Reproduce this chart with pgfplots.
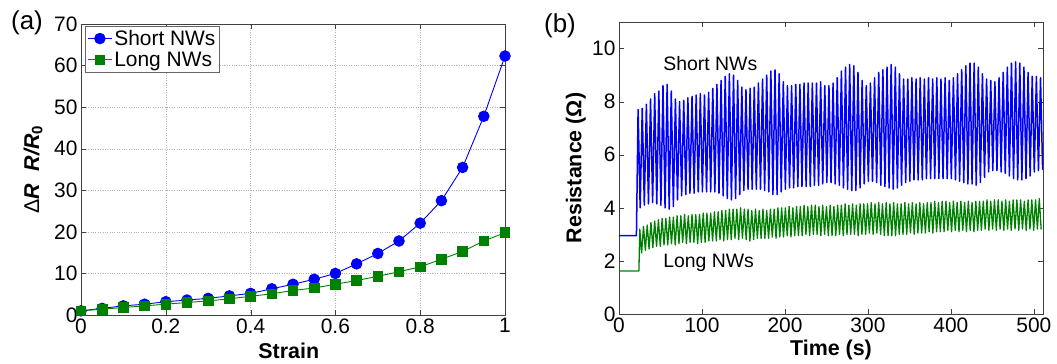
\documentclass[border=0pt]{standalone}
\usepackage{pgfplots}
\pgfplotsset{compat=1.18}
\usepackage{fontspec}
\setmainfont{Liberation Sans}
\definecolor{mblue}{RGB}{0,0,255}
\definecolor{mgreen}{RGB}{0,128,0}
\begin{document}
\begin{tikzpicture}[x=1bp,y=1bp]
\useasboundingbox (0,0) rectangle (1057,363);
\pgfplotsset{
  every axis/.append style={
    scale only axis,
    /pgf/number format/assume math mode=true,
    tick label style={font=\fontsize{21}{21}\selectfont},
    label style={font=\bfseries\fontsize{21.5}{21.5}\selectfont},
    axis line style={black!75},
    major tick length=5bp,
    tick style={black!75},
  }
}
% ---------- (a) ----------
\begin{axis}[at={(81bp,48bp)}, anchor=south west, width=424bp, height=291bp,
  xmin=0, xmax=1, ymin=0, ymax=70,
  xtick={0,0.2,0.4,0.6,0.8,1}, ytick={0,10,20,30,40,50,60,70},
  grid=major, major grid style={dotted, black!30},
  xlabel={Strain},
  xlabel style={at={(axis description cs:0.49,-0.122)}, anchor=center},
  ylabel={\mdseries Δ\textbf{\textit{R}}\hspace{0.6em}\textbf{\textit{R/R}}\textsubscript{\textbf{0}}},
  ylabel style={at={(axis description cs:-0.113,0.5)}, anchor=center},
  legend style={at={(axis description cs:0.01,0.993)}, anchor=north west, draw=black!60,
    font=\fontsize{21}{25}\selectfont, inner sep=2bp, row sep=1bp},
  legend cell align=left,
  legend image code/.code={\draw[mark repeat=2,mark phase=2,#1] plot coordinates {(0bp,0bp)(12bp,0bp)(24bp,0bp)};},
]
\addplot[mblue, line width=0.9bp, mark=*, mark size=5.3bp, mark options={fill=mblue, draw=mblue}] coordinates {
(0,1.0)(0.05,1.6)(0.1,2.2)(0.15,2.6)(0.2,3.2)(0.25,3.6)(0.3,4.0)(0.35,4.6)(0.4,5.2)(0.45,6.3)
(0.5,7.4)(0.55,8.6)(0.6,10.0)(0.65,12.3)(0.7,14.8)(0.75,17.8)(0.8,22.1)(0.85,27.5)(0.9,35.5)(0.95,47.8)(1.0,62.3)};
\addlegendentry{Short NWs}
\addplot[mgreen, line width=0.9bp, mark=square*, mark size=4.8bp, mark options={fill=mgreen, draw=mgreen}] coordinates {
(0,1.0)(0.05,1.4)(0.1,1.8)(0.15,2.2)(0.2,2.6)(0.25,3.0)(0.3,3.4)(0.35,3.9)(0.4,4.5)(0.45,5.1)
(0.5,5.9)(0.55,6.5)(0.6,7.4)(0.65,8.3)(0.7,9.3)(0.75,10.4)(0.8,11.6)(0.85,13.4)(0.9,15.3)(0.95,17.8)(1.0,19.8)};
\addlegendentry{Long NWs}
\end{axis}
% ---------- (b) ----------
\begin{axis}[at={(619bp,49bp)}, anchor=south west, width=424bp, height=292bp,
  xmin=0, xmax=511, ymin=0, ymax=11,
  xtick={0,100,200,300,400,500}, ytick={0,2,4,6,8,10},
  xlabel={Time (s)},
  xlabel style={at={(axis description cs:0.50,-0.122)}, anchor=center},
  ylabel={Resistance (Ω)},
  ylabel style={at={(axis description cs:-0.102,0.5)}, anchor=center},
]
\addplot[mblue, line width=1.5bp, line join=round, line cap=round] coordinates {
(0,2.95)(21,2.95)(23,7.7)(25.5,4.0)(28,7.75)(30.5,4.1)(33,7.9)(35.5,4.15)(38,8.1)(40.5,4.2)(43,8.3)(45.5,4.15)(48,8.4)(50.5,4.1)(53,8.6)(55.5,4.0)(58,8.65)(60.5,3.95)(63,8.4)(65.5,4.05)(68,8.1)(70.5,4.3)(73,8.0)(75.5,4.45)(78,8.05)(80.5,4.5)(83,8.15)(85.5,4.55)(88,8.2)(90.5,4.55)(93,8.25)(95.5,4.6)(98,8.3)(100.5,4.6)(103,8.25)(105.5,4.6)(108,8.35)(110.5,4.6)(113,8.5)(115.5,4.6)(118,8.65)(120.5,4.55)(123,8.8)(125.5,4.45)(128,8.95)(130.5,4.35)(133,9.05)(135.5,4.3)(138,9.0)(140.5,4.35)(143,8.8)(145.5,4.5)(148,8.55)(150.5,4.65)(153,8.45)(155.5,4.7)(158,8.5)(160.5,4.7)(163,8.55)(165.5,4.7)(168,8.7)(170.5,4.7)(173,8.85)(175.5,4.65)(178,9.0)(180.5,4.6)(183,9.15)(185.5,4.5)(188,9.2)(190.5,4.5)(193,9.05)(195.5,4.6)(198,8.75)(200.5,4.7)(203,8.6)(205.5,4.75)(208,8.6)(210.5,4.75)(213,8.65)(215.5,4.8)(218,8.65)(220.5,4.8)(223,8.7)(225.5,4.8)(228,8.7)(230.5,4.8)(233,8.7)(235.5,4.85)(238,8.7)(240.5,4.85)(243,8.75)(245.5,4.9)(248,8.6)(250.5,4.95)(253,8.6)(255.5,4.95)(258,8.7)(260.5,4.9)(263,8.9)(265.5,4.85)(268,9.15)(270.5,4.75)(273,9.3)(275.5,4.7)(278,9.4)(280.5,4.65)(283,9.35)(285.5,4.65)(288,9.1)(290.5,4.75)(293,8.8)(295.5,4.9)(298,8.6)(300.5,5.0)(303,8.7)(305.5,5.0)(308,8.9)(310.5,4.95)(313,9.1)(315.5,4.85)(318,9.2)(320.5,4.8)(323,9.3)(325.5,4.75)(328,9.4)(330.5,4.7)(333,9.3)(335.5,4.75)(338,9.05)(340.5,4.85)(343,8.85)(345.5,4.95)(348,8.85)(350.5,5.0)(353,8.9)(355.5,5.05)(358,8.85)(360.5,5.05)(363,8.9)(365.5,5.05)(368,8.85)(370.5,5.1)(373,8.9)(375.5,5.1)(378,8.85)(380.5,5.1)(383,8.9)(385.5,5.1)(388,8.85)(390.5,5.1)(393,8.9)(395.5,5.1)(398,8.8)(400.5,5.1)(403,8.9)(405.5,5.05)(408,9.05)(410.5,5.0)(413,9.2)(415.5,4.95)(418,9.35)(420.5,4.9)(423,9.45)(425.5,4.9)(428,9.45)(430.5,4.85)(433,9.3)(435.5,4.95)(438,9.05)(440.5,5.15)(443,8.85)(445.5,5.35)(448,8.8)(450.5,5.4)(453,8.75)(455.5,5.4)(458,8.9)(460.5,5.35)(463,9.1)(465.5,5.3)(468,9.3)(470.5,5.2)(473,9.45)(475.5,5.1)(478,9.5)(480.5,5.05)(483,9.45)(485.5,5.05)(488,9.3)(490.5,5.1)(493,9.1)(495.5,5.2)(498,8.95)(500.5,5.35)(503,8.95)(505.5,5.4)(508,8.9)(510.5,5.45)};
\addplot[mgreen, line width=1.3bp, line join=round, line cap=round] coordinates {
(0,1.62)(24,1.62)(25,3.2)(27.25,2.3)(29.5,3.3)(31.75,2.4)(34,3.35)(36.25,2.45)(38.5,3.45)(40.75,2.5)(43,3.5)(45.25,2.55)(47.5,3.55)(49.75,2.55)(52,3.6)(54.25,2.6)(56.5,3.6)(58.75,2.6)(61,3.65)(63.25,2.65)(65.5,3.65)(67.75,2.6)(70,3.7)(72.25,2.65)(74.5,3.7)(76.75,2.7)(79,3.75)(81.25,2.65)(83.5,3.7)(85.75,2.7)(88,3.75)(90.25,2.7)(92.5,3.75)(94.75,2.65)(97,3.75)(99.25,2.7)(101.5,3.8)(103.75,2.7)(106,3.8)(108.25,2.75)(110.5,3.8)(112.75,2.75)(115,3.85)(117.25,2.75)(119.5,3.85)(121.75,2.8)(124,3.9)(126.25,2.75)(128.5,3.9)(130.75,2.8)(133,3.95)(135.25,2.8)(137.5,3.95)(139.75,2.85)(142,3.95)(144.25,2.8)(146.5,4.0)(148.75,2.85)(151,3.95)(153.25,2.8)(155.5,3.95)(157.75,2.75)(160,3.9)(162.25,2.8)(164.5,3.95)(166.75,2.85)(169,3.9)(171.25,2.85)(173.5,3.95)(175.75,2.85)(178,3.9)(180.25,2.85)(182.5,3.95)(184.75,2.9)(187,3.95)(189.25,2.85)(191.5,4.0)(193.75,2.9)(196,4.0)(198.25,2.9)(200.5,4.0)(202.75,2.95)(205,4.05)(207.25,2.9)(209.5,4.0)(211.75,2.95)(214,4.05)(216.25,2.95)(218.5,4.05)(220.75,2.95)(223,4.1)(225.25,3.0)(227.5,4.05)(229.75,2.95)(232,4.1)(234.25,3.0)(236.5,4.1)(238.75,3.0)(241,4.05)(243.25,2.95)(245.5,4.1)(247.75,3.0)(250,4.05)(252.25,2.95)(254.5,4.1)(256.75,2.95)(259,4.05)(261.25,2.95)(263.5,4.1)(265.75,3.0)(268,4.1)(270.25,2.95)(272.5,4.15)(274.75,3.0)(277,4.1)(279.25,3.0)(281.5,4.15)(283.75,3.0)(286,4.1)(288.25,2.95)(290.5,4.15)(292.75,3.0)(295,4.15)(297.25,3.0)(299.5,4.15)(301.75,3.05)(304,4.2)(306.25,3.0)(308.5,4.15)(310.75,3.05)(313,4.2)(315.25,3.0)(317.5,4.15)(319.75,2.95)(322,4.2)(324.25,2.95)(326.5,4.15)(328.75,2.95)(331,4.2)(333.25,2.95)(335.5,4.15)(337.75,3.0)(340,4.15)(342.25,3.0)(344.5,4.2)(346.75,3.0)(349,4.15)(351.25,3.05)(353.5,4.2)(355.75,3.0)(358,4.15)(360.25,3.05)(362.5,4.2)(364.75,3.05)(367,4.15)(369.25,3.05)(371.5,4.2)(373.75,3.1)(376,4.2)(378.25,3.05)(380.5,4.25)(382.75,3.1)(385,4.2)(387.25,3.1)(389.5,4.25)(391.75,3.1)(394,4.25)(396.25,3.15)(398.5,4.2)(400.75,3.1)(403,4.25)(405.25,3.15)(407.5,4.2)(409.75,3.1)(412,4.25)(414.25,3.15)(416.5,4.2)(418.75,3.1)(421,4.25)(423.25,3.15)(425.5,4.2)(427.75,3.1)(430,4.25)(432.25,3.15)(434.5,4.25)(436.75,3.15)(439,4.25)(441.25,3.2)(443.5,4.3)(445.75,3.15)(448,4.25)(450.25,3.2)(452.5,4.3)(454.75,3.15)(457,4.3)(459.25,3.2)(461.5,4.25)(463.75,3.15)(466,4.3)(468.25,3.2)(470.5,4.25)(472.75,3.15)(475,4.3)(477.25,3.2)(479.5,4.3)(481.75,3.15)(484,4.3)(486.25,3.2)(488.5,4.25)(490.75,3.15)(493,4.3)(495.25,3.2)(497.5,4.3)(499.75,3.15)(502,4.3)(504.25,3.2)(506.5,4.35)(508.75,3.2)};
\node[font=\fontsize{19.5}{19.5}\selectfont, anchor=center] at (axis cs:110,9.45) {Short NWs};
\node[font=\fontsize{19.5}{19.5}\selectfont, anchor=center] at (axis cs:108,1.92) {Long NWs};
\end{axis}
\node[font=\fontsize{26}{26}\selectfont, anchor=center] at (27,340) {(a)};
\node[font=\fontsize{26}{26}\selectfont, anchor=center] at (560,337) {(b)};
\end{tikzpicture}
\end{document}
